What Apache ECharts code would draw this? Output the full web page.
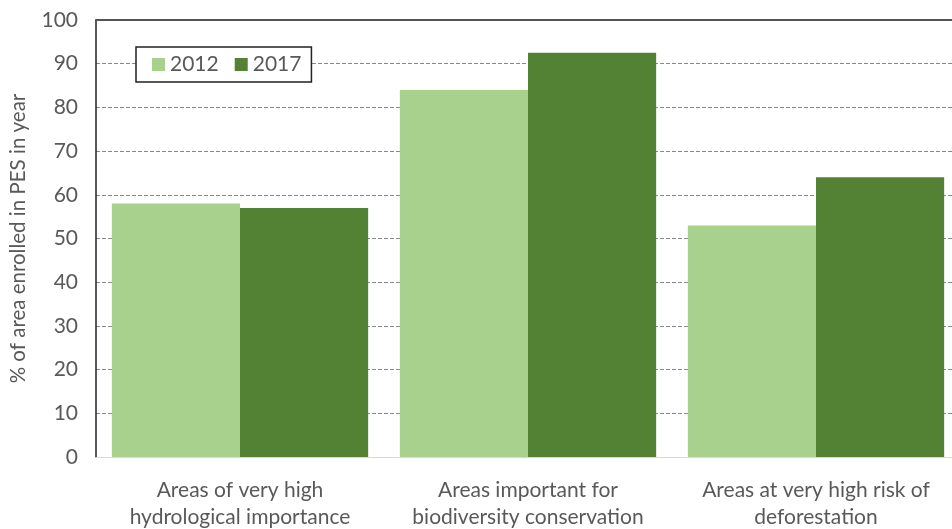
<!DOCTYPE html>
<html lang="en">
<head>
    <meta charset="UTF-8">
    <title>PES enrolment</title>
    <script type="text/javascript" src="https://cdn.jsdelivr.net/npm/echarts@6/dist/echarts.min.js"></script>
    <style>
        html, body { margin: 0; padding: 0; background: #fff; }
    </style>
</head>
<body>
    <div id="container" style="width:952px;height:529px"></div>

    <script type="text/javascript">
        var categories = [
            'Areas of very high\nhydrological importance',
            'Areas important for\nbiodiversity conservation',
            'Areas at very high risk of\ndeforestation'
        ];
        var values2012 = [58, 84, 53];
        var values2017 = [57, 92.5, 64];

        var font = 'Lato, "Open Sans", sans-serif';
        var grey = '#595959';

        var dom = document.getElementById("container");
        var myChart = echarts.init(dom);

        var option = {
            animation: false,
            textStyle: { fontFamily: font },
            legend: {
                left: 136,
                top: 47,
                padding: [7, 10, 7, 16],
                borderColor: '#222',
                borderWidth: 1.5,
                borderRadius: 0,
                backgroundColor: '#fff',
                itemWidth: 13,
                itemHeight: 13,
                itemGap: 16,
                icon: 'rect',
                textStyle: { fontSize: 21, color: grey, fontFamily: font },
                data: ['2012', '2017']
            },
            grid: { left: 96, right: -8, top: 20, bottom: 72, outerBoundsMode: 'none' },
            xAxis: [{
                type: 'category',
                data: categories,
                axisTick: { show: false },
                axisLine: { lineStyle: { color: '#d9d9d9', width: 1 } },
                axisLabel: {
                    color: grey, fontSize: 21, lineHeight: 27, margin: 20,
                    interval: 0, fontFamily: font
                }
            }, {
                type: 'category',
                position: 'top',
                data: categories,
                axisTick: { show: false },
                axisLabel: { show: false },
                axisLine: { lineStyle: { color: '#555', width: 2 } }
            }],
            yAxis: {
                type: 'value',
                min: 0,
                max: 100,
                interval: 10,
                name: '% of area enrolled in PES in year',
                nameLocation: 'middle',
                nameGap: 67,
                nameTextStyle: { color: grey, fontSize: 20.5, fontFamily: font },
                axisLine: { show: true, lineStyle: { color: '#222', width: 1.5 } },
                axisTick: { show: false },
                axisLabel: { color: grey, fontSize: 21, margin: 18, fontFamily: font },
                splitLine: { lineStyle: { color: '#888', type: [4, 2], width: 1 } }
            },
            series: [{
                name: '2012',
                type: 'bar',
                data: values2012,
                barGap: '0%',
                barCategoryGap: '11%',
                itemStyle: { color: '#a9d18e' }
            }, {
                name: '2017',
                type: 'bar',
                data: values2017,
                barGap: '0%',
                barCategoryGap: '11%',
                itemStyle: { color: '#548235' }
            }]
        };

        myChart.setOption(option, true);
    </script>
</body>
</html>
